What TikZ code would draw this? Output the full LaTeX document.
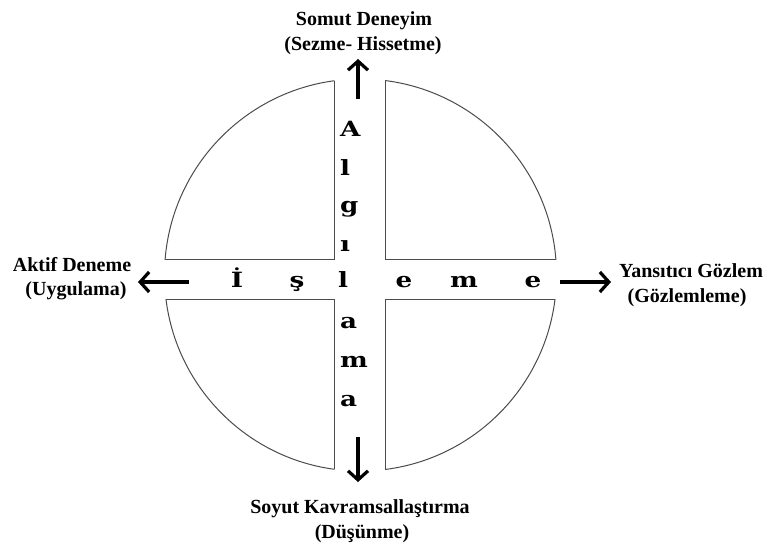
\documentclass[tikz,border=0pt]{standalone}
\usepackage{fontspec}
\setmainfont{Liberation Serif}
\newfontfamily\crossfont{DejaVu Serif}
\usetikzlibrary{arrows.meta}
\tikzset{
  quad/.style={draw=black!70, line width=1pt},
  arr/.style={line width=3.2pt, -{Straight Barb[length=9pt,width=20pt]}},
  lbl/.style={font=\fontsize{20}{23}\selectfont\bfseries, anchor=base, inner sep=0pt, align=center},
  letter/.style={font=\crossfont\fontsize{21}{24}\selectfont\bfseries, anchor=base west, inner sep=0pt},
}
\newcommand{\wide}[1]{\scalebox{1.25}[1]{#1}}
\begin{document}
\begin{tikzpicture}[x=1pt,y=-1pt]
\useasboundingbox[fill=white] (0,0) rectangle (763,544);
\coordinate (O) at (360.5,275);
% quadrants
\foreach \a/\b/\c/\d in {100/-10/334/259, 385/-10/620/259, 100/299/334/560, 385/299/620/560}{
  \begin{scope}
    \clip (O) circle [radius=196pt];
    \draw[quad] (\a,\b) rectangle (\c,\d);
  \end{scope}
  \begin{scope}
    \clip (\a,\b) rectangle (\c,\d);
    \draw[quad] (O) circle [radius=196pt];
  \end{scope}
}
% arrows
\coordinate (upS) at (358,99);
\coordinate (upE) at (358,59);
\coordinate (dnS) at (358,437);
\coordinate (dnE) at (358,482);
\coordinate (lfS) at (189,282);
\coordinate (lfE) at (138,282);
\coordinate (rtS) at (560,282);
\coordinate (rtE) at (611,282);
\draw[arr] (upS) -- (upE);
\draw[arr] (dnS) -- (dnE);
\draw[arr] (lfS) -- (lfE);
\draw[arr] (rtS) -- (rtE);
% vertical word
\node[letter] (vA) at (340,136) {\wide{A}};
\node[letter] (vl) at (340,175) {\wide{l}};
\node[letter] (vg) at (340,212) {\wide{g}};
\node[letter] (vi) at (340,251) {\wide{ı}};
\node[letter] (vl2) at (338,287) {\wide{l}};
\node[letter] (va) at (340,328) {\wide{a}};
\node[letter] (vm) at (340,367) {\wide{m}};
\node[letter] (va2) at (340,406) {\wide{a}};
% horizontal word
\node[letter, anchor=base] (hI) at (237,287) {\wide{İ}};
\node[letter, anchor=base] (hs) at (297,287) {\wide{ş}};
\node[letter, anchor=base] (he) at (404,287) {\wide{e}};
\node[letter, anchor=base] (hm) at (464,287) {\wide{m}};
\node[letter, anchor=base] (he2) at (533,287) {\wide{e}};
% labels
\node[lbl] (t1) at (364,25) {Somut Deneyim};
\node[lbl] (t2) at (363,50) {(Sezme- Hissetme)};
\node[lbl] (l1) at (72,271) {Aktif Deneme};
\node[lbl] (l2) at (76,295) {(Uygulama)};
\node[lbl] (r1) at (691,277) {Yansıtıcı Gözlem};
\node[lbl] (r2) at (687,302) {(Gözlemleme)};
\node[lbl] (b1) at (360,513) {Soyut Kavramsallaştırma};
\node[lbl] (b2) at (362,538) {(Düşünme)};
\end{tikzpicture}
\end{document}
